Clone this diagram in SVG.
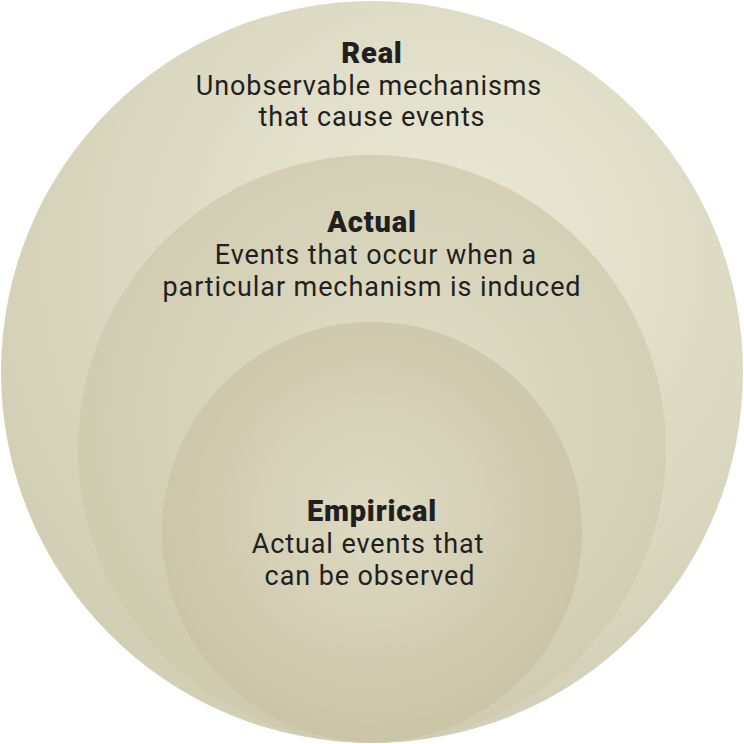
<svg xmlns="http://www.w3.org/2000/svg" width="744" height="744" viewBox="0 0 744 744">
<defs>
<radialGradient id="g1" cx="0.6" cy="0.35" r="0.65"><stop offset="0" stop-color="#ecead9"/><stop offset="1" stop-color="#d3cfb5"/></radialGradient>
<radialGradient id="g2" cx="0.55" cy="0.45" r="0.65"><stop offset="0" stop-color="#e2dfca"/><stop offset="1" stop-color="#cdc8ab"/></radialGradient>
<radialGradient id="g3" cx="0.5" cy="0.45" r="0.6"><stop offset="0" stop-color="#dedac3"/><stop offset="1" stop-color="#c9c3a5"/></radialGradient>
<style>
text{font-family:"Roboto","Liberation Sans",sans-serif;fill:#231f20;text-anchor:middle;font-size:27px;letter-spacing:0.9px}
.t{font-weight:900;font-size:29px;letter-spacing:0.8px}
</style>
</defs>
<g id="real"><circle cx="372" cy="372" r="371" fill="url(#g1)"/>
<text class="t" x="372" y="63">Real</text>
<text x="369" y="95">Unobservable mechanisms</text>
<text x="372" y="126">that cause events</text></g>
<g id="actual"><circle cx="372" cy="449" r="294" fill="url(#g2)"/>
<text class="t" x="372" y="232">Actual</text>
<text x="376" y="264">Events that occur when a</text>
<text x="372" y="296">particular mechanism is induced</text></g>
<g id="empirical"><circle cx="372" cy="532" r="210" fill="url(#g3)"/>
<text class="t" x="372" y="521">Empirical</text>
<text x="368" y="553">Actual events that</text>
<text x="370" y="585">can be observed</text></g>
<g id="connectors"/>
</svg>
